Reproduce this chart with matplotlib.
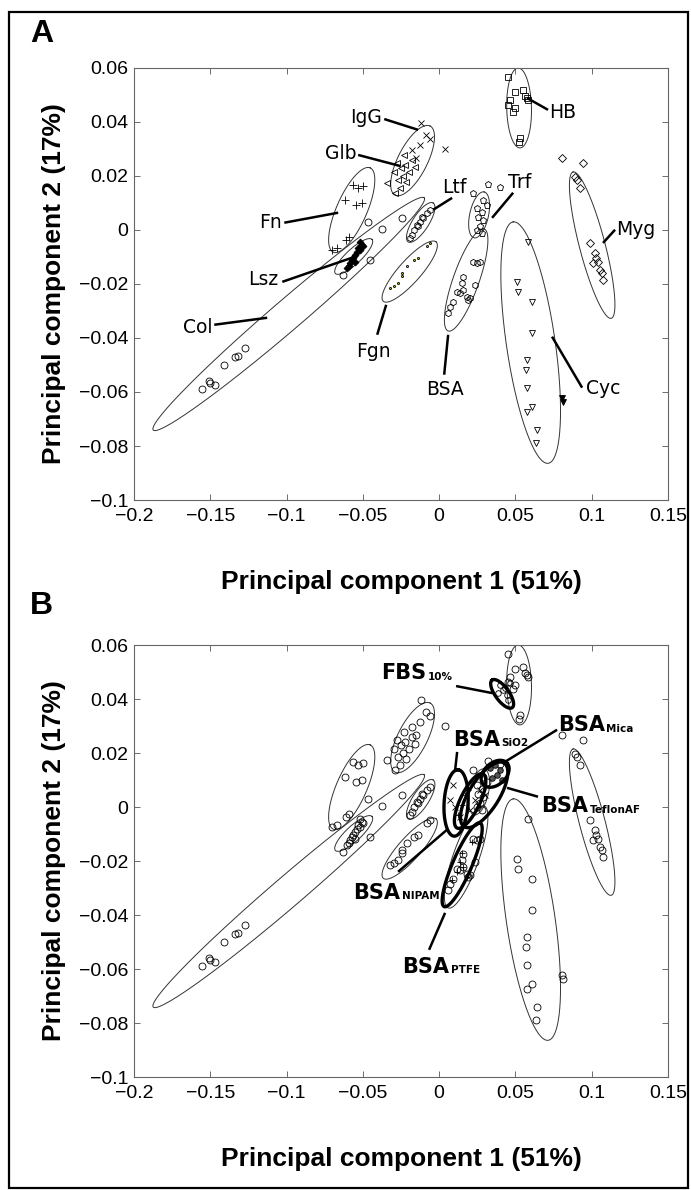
import numpy as np
import matplotlib
matplotlib.use("Agg")
import matplotlib.pyplot as plt
from matplotlib.patches import Rectangle

plt.rcParams['font.family'] = ['Liberation Sans', 'DejaVu Sans']
plt.rcParams['axes.unicode_minus'] = True

# ---------------- data (PC1, PC2 scores) ----------------
col_x = [-0.1554, -0.1511, -0.1500, -0.1467, -0.1408, -0.1336, -0.1321, -0.1271, -0.0629, -0.0452, -0.0465, -0.0373, -0.0242]
col_y = [-0.0589, -0.0561, -0.0567, -0.0573, -0.0499, -0.0470, -0.0466, -0.0437, -0.0166, -0.0110, 0.0030, 0.0004, 0.0045]

lsz_x = [-0.0506, -0.0530, -0.0539, -0.0550, -0.0563, -0.0572, -0.0583, -0.0594, -0.0605, -0.0517, -0.0496, -0.0550, -0.0517]
lsz_y = [-0.0055, -0.0067, -0.0080, -0.0092, -0.0104, -0.0110, -0.0123, -0.0135, -0.0141, -0.0073, -0.0061, -0.0117, -0.0043]

fn_x = [-0.0564, -0.0498, -0.0531, -0.0616, -0.0544, -0.0505, -0.0609, -0.0668, -0.0701, -0.0590]
fn_y = [0.0167, 0.0163, 0.0156, 0.0111, 0.0093, 0.0100, -0.0037, -0.0067, -0.0074, -0.0025]

igg_x = [-0.0118, -0.0059, 0.0039, -0.0085, -0.0177, -0.0124, -0.0151]
igg_y = [0.0396, 0.0337, 0.0300, 0.0352, 0.0297, 0.0315, 0.0267]

glb_x = [-0.0275, -0.0249, -0.0223, -0.0197, -0.0236, -0.0269, -0.0216, -0.0255, -0.0288, -0.0177, -0.0157, -0.0229, -0.0295, -0.0341]
glb_y = [0.0249, 0.0230, 0.0241, 0.0215, 0.0200, 0.0186, 0.0178, 0.0156, 0.0138, 0.0260, 0.0234, 0.0278, 0.0215, 0.0175]

hb_x = [0.0452, 0.0498, 0.0550, 0.0576, 0.0563, 0.0452, 0.0498, 0.0485, 0.0531, 0.0524, 0.0465, 0.0583]
hb_y = [0.0567, 0.0511, 0.0519, 0.0489, 0.0496, 0.0463, 0.0452, 0.0437, 0.0341, 0.0326, 0.0482, 0.0482]

myg_x = [0.0806, 0.0943, 0.0891, 0.0904, 0.0924, 0.0989, 0.1022, 0.1041, 0.1055, 0.1009, 0.1068, 0.1074, 0.1028]
myg_y = [0.0267, 0.0249, 0.0197, 0.0186, 0.0156, -0.0048, -0.0085, -0.0118, -0.0147, -0.0122, -0.0159, -0.0184, -0.0103]

ltf_x = [-0.0059, -0.0081, -0.0103, -0.0124, -0.0146, -0.0168, -0.0179, -0.0190, -0.0136, -0.0113]
ltf_y = [0.0075, 0.0062, 0.0044, 0.0031, 0.0019, 0.0001, -0.0018, -0.0030, 0.0013, 0.0050]

fgn_x = [-0.0081, -0.0136, -0.0168, -0.0212, -0.0244, -0.0267, -0.0299, -0.0321, -0.0244, -0.0059]
fgn_y = [-0.0061, -0.0104, -0.0110, -0.0135, -0.0160, -0.0197, -0.0209, -0.0215, -0.0172, -0.0049]

trf_x = [0.0225, 0.0290, 0.0312, 0.0247, 0.0280, 0.0257, 0.0290, 0.0269, 0.0247, 0.0280, 0.0321, 0.0400]
trf_y = [0.0136, 0.0112, 0.0093, 0.0081, 0.0068, 0.0050, 0.0038, 0.0013, 0.0001, -0.0012, 0.0171, 0.0160]

bsa_x = [0.0249, 0.0223, 0.0157, 0.0151, 0.0157, 0.0138, 0.0183, 0.0203, 0.0092, 0.0072, 0.0059, 0.0118, 0.0190, 0.0236, 0.0269]
bsa_y = [-0.0121, -0.0118, -0.0173, -0.0196, -0.0221, -0.0233, -0.0247, -0.0251, -0.0266, -0.0284, -0.0307, -0.0229, -0.0258, -0.0203, -0.0118]

cyc_x = [0.0511, 0.0517, 0.0609, 0.0609, 0.0576, 0.0570, 0.0576, 0.0609, 0.0576, 0.0642, 0.0635, 0.0583]
cyc_y = [-0.0192, -0.0229, -0.0266, -0.0381, -0.0480, -0.0517, -0.0584, -0.0654, -0.0673, -0.0739, -0.0788, -0.0044]
cyc_out_x = [0.0806, 0.0812]
cyc_out_y = [-0.0621, -0.0636]

# BSA adsorbed on surfaces / FBS (panel B)
fbs_x = [0.0400, 0.0419, 0.0445, 0.0452, 0.0386, 0.0465, 0.0432]
fbs_y = [0.0452, 0.0433, 0.0415, 0.0397, 0.0422, 0.0459, 0.0441]
mica_x = [0.0334, 0.0367, 0.0400, 0.0380, 0.0347, 0.0413]
mica_y = [0.0145, 0.0156, 0.0138, 0.0119, 0.0108, 0.0101]
teflon_x = [0.0269, 0.0236, 0.0203, 0.0255, 0.0301]
teflon_y = [0.0064, 0.0027, -0.0011, 0.0008, 0.0045]
sio2_x = [0.0092, 0.0105, 0.0138, 0.0072]
sio2_y = [0.0082, 0.0001, -0.0036, 0.0027]
nipam_x = [0.0170, 0.0151, 0.0190, 0.0124]
nipam_y = [0.0045, 0.0008, 0.0064, -0.0029]
ptfe_x = [0.0216, 0.0151, 0.0138, 0.0157, 0.0118, 0.0183, 0.0085]
ptfe_y = [-0.0129, -0.0170, -0.0203, -0.0222, -0.0240, -0.0259, -0.0270]

# confidence ellipses: centre, major-axis tip, minor/major ratio
ell_names = ['Fn', 'IgG/Glb', 'HB', 'Myg', 'Ltf', 'Fgn', 'Col', 'Lsz', 'Trf', 'BSA', 'Cyc']
ell_cx = [-0.0573, -0.0174, 0.0524, 0.1003, -0.0121, -0.0193, -0.0986, -0.0560, 0.0262, 0.0177, 0.0600]
ell_cy = [0.0074, 0.0257, 0.0452, -0.0056, 0.0028, -0.0154, -0.0311, -0.0098, 0.0056, -0.0185, -0.0417]
ell_tx = [-0.0452, -0.0059, 0.0518, 0.0878, -0.0039, -0.0020, -0.0098, -0.0440, 0.0295, 0.0295, 0.0485]
ell_ty = [0.0230, 0.0385, 0.0600, 0.0215, 0.0100, -0.0044, 0.0119, -0.0035, 0.0141, 0.0004, 0.0030]
ell_r = [0.33, 0.38, 0.31, 0.17, 0.35, 0.28, 0.085, 0.30, 0.40, 0.24, 0.20]

thick_names = ['FBS', 'SiO2', 'NIPAM', 'Mica', 'TeflonAF', 'PTFE']
thick_cx = [0.0413, 0.0111, 0.0203, 0.0367, 0.0295, 0.0151]
thick_cy = [0.0419, 0.0015, 0.0022, 0.0123, 0.0045, -0.0214]
thick_tx = [0.0347, 0.0124, 0.0288, 0.0445, 0.0426, 0.0269]
thick_ty = [0.0470, 0.0138, 0.0122, 0.0163, 0.0163, -0.0059]
thick_r = [0.40, 0.36, 0.33, 0.68, 0.40, 0.21]

xticks = [-0.2, -0.15, -0.1, -0.05, 0, 0.05, 0.1, 0.15]
xtick_labels = ['\u22120.2', '\u22120.15', '\u22120.1', '\u22120.05', '0', '0.05', '0.1', '0.15']
yticks = [-0.1, -0.08, -0.06, -0.04, -0.02, 0, 0.02, 0.04, 0.06]
ytick_labels = ['\u22120.1', '\u22120.08', '\u22120.06', '\u22120.04', '\u22120.02', '0', '0.02', '0.04', '0.06']

XMIN, XMAX, YMIN, YMAX = -0.2, 0.15, -0.1, 0.06

# ---------------- figure ----------------
W, H = 691, 1190
fig = plt.figure(figsize=(W / 100, H / 100), dpi=100)
fig.patch.set_facecolor('white')
axA = fig.add_axes([134 / W, 1 - 500 / H, 534 / W, 432 / H])
axB = fig.add_axes([134 / W, 1 - 1077 / H, 534 / W, 432 / H])

fig.add_artist(Rectangle((9 / W, 2 / H), 679 / W, 1176 / H, transform=fig.transFigure,
                         fill=False, edgecolor='black', linewidth=1.6))


def ellipse(ax, cx, cy, tx, ty, r, **kw):
    bb = ax.bbox
    sx = bb.width / (XMAX - XMIN)
    sy = bb.height / (YMAX - YMIN)
    ux, uy = (tx - cx) * sx, (ty - cy) * sy
    vx, vy = -uy * r, ux * r
    t = np.linspace(0, 2 * np.pi, 300)
    px = ux * np.cos(t) + vx * np.sin(t)
    py = uy * np.cos(t) + vy * np.sin(t)
    ax.plot(cx + px / sx, cy + py / sy, **kw)


def style_axes(ax):
    ax.set_xlim(XMIN, XMAX)
    ax.set_ylim(YMIN, YMAX)
    ax.set_xticks(xticks)
    ax.set_xticklabels(xtick_labels)
    ax.set_yticks(yticks)
    ax.set_yticklabels(ytick_labels)
    ax.tick_params(direction='in', top=True, right=True, length=4, width=0.6,
                   labelsize=14, color='#555555')
    ax.tick_params(axis='x', pad=6)
    ax.tick_params(axis='y', pad=4)
    for s in ax.spines.values():
        s.set_linewidth(0.8)
        s.set_color('#666666')
    ax.text(0.5, -0.19, 'Principal component 1 (51%)', transform=ax.transAxes,
            ha='center', va='center', fontsize=19, fontweight='bold')
    ax.text(-0.15, 0.5, 'Principal component 2 (17%)', transform=ax.transAxes,
            ha='center', va='center', rotation=90, fontsize=19, fontweight='bold')


for ax in (axA, axB):
    style_axes(ax)
    for i in range(len(ell_names)):
        ellipse(ax, ell_cx[i], ell_cy[i], ell_tx[i], ell_ty[i], ell_r[i],
                color='#333333', lw=0.7)

fig.text(30 / W, 1 - 34 / H, 'A', fontsize=23, fontweight='bold', ha='left', va='center')
fig.text(30 / W, 1 - 606 / H, 'B', fontsize=23, fontweight='bold', ha='left', va='center')

# ---------------- panel A markers ----------------
mk = dict(linestyle='none', markeredgecolor='black', markeredgewidth=0.6)
axA.plot(col_x, col_y, 'o', ms=5, mfc='none', **mk)
axA.plot(lsz_x, lsz_y, 'D', ms=3.5, mfc='black', **mk)
axA.plot(fn_x, fn_y, '+', ms=5.5, **mk)
axA.plot(igg_x, igg_y, 'x', ms=4.5, **mk)
axA.plot(glb_x, glb_y, '<', ms=4.5, mfc='none', **mk)
axA.plot(hb_x, hb_y, 's', ms=4.5, mfc='none', **mk)
axA.plot(myg_x, myg_y, 'D', ms=4, mfc='none', **mk)
axA.plot(ltf_x, ltf_y, 'h', ms=4.5, mfc='none', **mk)
axA.plot(fgn_x, fgn_y, '.', ms=3, **mk)
axA.plot(trf_x, trf_y, 'p', ms=4.5, mfc='none', **mk)
axA.plot(bsa_x, bsa_y, 'h', ms=4.5, mfc='none', **mk)
axA.plot(cyc_x, cyc_y, 'v', ms=5, mfc='none', **mk)
axA.plot(cyc_out_x, cyc_out_y, 'v', ms=5, mfc='black', **mk)

# ---------------- panel B markers ----------------
for gx, gy in [(col_x, col_y), (lsz_x, lsz_y), (fn_x, fn_y), (igg_x, igg_y), (glb_x, glb_y),
               (hb_x, hb_y), (myg_x, myg_y), (ltf_x, ltf_y), (fgn_x, fgn_y), (trf_x, trf_y),
               (bsa_x, bsa_y), (cyc_x, cyc_y), (cyc_out_x, cyc_out_y)]:
    axB.plot(gx, gy, 'o', ms=5, mfc='none', **mk)
axB.plot(fbs_x, fbs_y, 'o', ms=4, mfc='none', **mk)
axB.plot(mica_x, mica_y, 'o', ms=4, mfc='#555555', **mk)
axB.plot(teflon_x, teflon_y, 'x', ms=4, **mk)
axB.plot(sio2_x, sio2_y, 'x', ms=4, **mk)
axB.plot(nipam_x, nipam_y, '+', ms=4.5, **mk)
axB.plot(ptfe_x, ptfe_y, '+', ms=5, **mk)
for i in range(len(thick_names)):
    ellipse(axB, thick_cx[i], thick_cy[i], thick_tx[i], thick_ty[i], thick_r[i],
            color='black', lw=2.4)

# ---------------- annotations ----------------
def leader(ax, x0, y0, x1, y1):
    ax.plot([x0, x1], [y0, y1], color='black', lw=1.8, solid_capstyle='butt')


labA = [  # text, text_x, text_y, line start, line end
    ('IgG', -0.0583, 0.0415, (-0.0360, 0.0411), (-0.0138, 0.0371)),
    ('Glb', -0.0747, 0.0285, (-0.0531, 0.0278), (-0.0255, 0.0237)),
    ('Fn', -0.1179, 0.0027, (-0.1015, 0.0027), (-0.0662, 0.0064)),
    ('Lsz', -0.1251, -0.0184, (-0.1028, -0.0192), (-0.0537, -0.0096)),
    ('Col', -0.1677, -0.0362, (-0.1474, -0.0351), (-0.1127, -0.0325)),
    ('Ltf', 0.0020, 0.0156, (0.0085, 0.0119), (-0.0039, 0.0075)),
    ('Trf', 0.0452, 0.0175, (0.0485, 0.0138), (0.0347, 0.0045)),
    ('Cyc', 0.0963, -0.0588, (0.0937, -0.0584), (0.0740, -0.0395)),
    ('Myg', 0.1159, 0.0001, (0.1153, 0.0001), (0.1074, -0.0048)),
    ('HB', 0.0721, 0.0437, (0.0714, 0.0445), (0.0576, 0.0489)),
]
for t, tx, ty, p0, p1 in labA:
    axA.text(tx, ty, t, ha='left', va='center', fontsize=13.5, family='DejaVu Sans')
    leader(axA, p0[0], p0[1], p1[0], p1[1])
for t, tx, ty, p0, p1 in [('Fgn', -0.0432, -0.0451, (-0.0406, -0.0388), (-0.0347, -0.0277)),
                          ('BSA', 0.0039, -0.0591, (0.0033, -0.0536), (0.0059, -0.0388))]:
    axA.text(tx, ty, t, ha='center', va='center', fontsize=13.5, family='DejaVu Sans')
    leader(axA, p0[0], p0[1], p1[0], p1[1])

labB = [
    ('FBS', '10%', -0.0380, 0.0496, (0.0111, 0.0448), (0.0347, 0.0422)),
    ('BSA', 'SiO2', 0.0092, 0.0249, (0.0118, 0.0204), (0.0105, 0.0138)),
    ('BSA', 'Mica', 0.0779, 0.0304, (0.0773, 0.0286), (0.0419, 0.0163)),
    ('BSA', 'TeflonAF', 0.0668, 0.0004, (0.0648, 0.0038), (0.0445, 0.0071)),
    ('BSA', 'NIPAM', -0.0563, -0.0318, (-0.0269, -0.0240), (0.0052, -0.0084)),
    ('BSA', 'PTFE', -0.0242, -0.0591, (-0.0066, -0.0529), (0.0039, -0.0392)),
]
for t, sub, tx, ty, p0, p1 in labB:
    main = axB.text(tx, ty, t, ha='left', va='center', fontsize=15, fontweight='bold',
                    family='DejaVu Sans')
    axB.annotate(sub, xy=(1, 0), xycoords=main, xytext=(1, 1), textcoords='offset points',
                 ha='left', va='bottom', fontsize=7.5, fontweight='bold', family='DejaVu Sans')
    leader(axB, p0[0], p0[1], p1[0], p1[1])

fig.savefig('out.png', dpi=100, facecolor='white')
